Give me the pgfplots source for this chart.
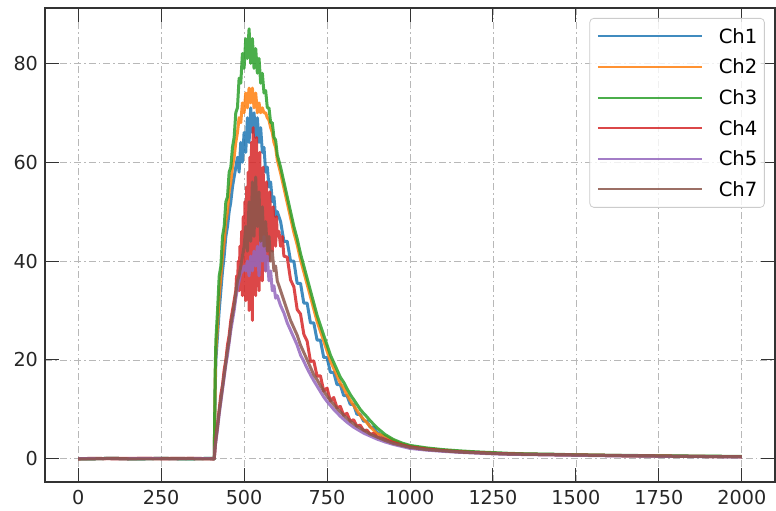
\documentclass[border=0pt]{standalone}
\usepackage{fontspec}
\setmainfont{DejaVu Sans}
\usepackage{pgfplots}
\usepackage{pgfplotstable}
\pgfplotsset{compat=1.18}
\definecolor{c1}{HTML}{1F77B4}
\definecolor{c2}{HTML}{FF7F0E}
\definecolor{c3}{HTML}{2CA02C}
\definecolor{c4}{HTML}{D62728}
\definecolor{c5}{HTML}{9467BD}
\definecolor{c7}{HTML}{8C564B}
\pgfplotstableread{
x c1 c2 c3 c5 c7
0 0 0 0 0 0
50 0 0.1 0 0.1 0
100 0.1 0 0.1 0 0.1
150 0 0 0 0 0
200 0 0.1 0 0.1 0
250 0.1 0 0.1 0 0
300 0 0 0 0 0.1
350 0 0.1 0 0.1 0
400 0.1 0 0.1 0 0
410 0 0 0 0 0
413 14 16 18 2.5 2.5
415 20 22 24 3.5 4
420 25 27 30 6 6.5
425 30 33 37 9 9.5
430 34 37 39 11.5 12
435 38 41 45 14 14.5
440 41 44 47 16.5 17
445 45 48 52 19 19.5
450 47 50 53 21 22
455 50 54 58 23.5 24
460 52 56 59 26 27
465 55 59 63 28 29
470 57 61 65 30 31
475 59 64 70 32.5 33.5
480 61 66 71 34.5 36
485 58 69 77 36 37
490 64 68 76 37.5 39
495 60 72 82 38 41
500 66 70 79 39 43
505 62 74 85 38 47
510 69 71 81 40 42
515 64 75 87 37 52
520 71 72 80 41 44
525 66 75 85 38 56
530 70 71 79 42 45
535 65 74 83 39 57
540 69 70 78 43 47
545 64 72 81 37 54
550 67 70 76 44 44
555 62 71 78 40 51
560 63 70 74 45 43
565 58 70 74.5 38 48
570 59 69 71 41 42
575 55 68.5 71 36 45
580 56 67 68 38 40
585 52 66 68 34 42
590 53 64 65 35 38
595 49 63 64.5 32.5 39
600 50 60.5 61.5 33 36
610 48 57.8 59 31 34
620 44 54.8 56 29.5 32
630 44 51.8 53 27.5 30
640 40 48.8 50 26 28
650 40 45.8 47 24.5 26.5
660 35.5 43.3 44.5 23 25
670 35.5 40.3 41.5 21 23
680 31.5 37.8 39 19.7 21.5
690 31.5 35.3 36.5 18.3 20
700 27.5 32.8 34 17 18.5
710 27.5 30.3 31.5 15.8 17
720 24 27.8 29 14.7 16
730 24 25.8 27 13.6 14.8
740 20.5 23.8 25 12.5 13.7
750 20.5 21.8 23 11.6 12.7
760 17.5 19.8 21 10.8 11.8
770 17.5 18.3 19.5 10 11
780 15 16.8 18 9.3 10.2
790 15 15.3 16.5 8.6 9.5
800 12.8 14.3 15.5 8 8.8
810 12.8 13.0 14.2 7.4 8.2
820 11 11.8 13 6.9 7.6
830 11 10.8 12 6.4 7.1
840 9 9.8 11 6 6.6
850 9 8.8 10 5.6 6.2
860 7.6 8.0 9.2 5.2 5.8
870 7.6 7.3 8.5 4.9 5.4
880 6.4 6.5 7.7 4.6 5.0
890 6.4 5.8 7 4.3 4.7
900 5.4 5.1 6.3 4.0 4.4
925 4.3 4.6 4.9 3.4 3.7
950 3.5 3.7 3.9 2.9 3.1
975 2.9 3.0 3.2 2.5 2.7
1000 2.5 2.5 2.7 2.1 2.3
1050 2.0 2.1 2.2 1.75 1.85
1100 1.7 1.75 1.85 1.5 1.6
1150 1.45 1.5 1.6 1.3 1.35
1200 1.3 1.3 1.4 1.15 1.2
1250 1.15 1.15 1.25 1.0 1.05
1300 1.0 1.0 1.1 0.9 0.95
1350 0.95 0.95 1.0 0.85 0.9
1400 0.9 0.9 0.95 0.8 0.85
1450 0.85 0.85 0.9 0.75 0.8
1500 0.8 0.8 0.8 0.7 0.75
1550 0.75 0.75 0.75 0.65 0.7
1600 0.7 0.7 0.7 0.6 0.65
1650 0.65 0.65 0.7 0.6 0.6
1700 0.6 0.6 0.65 0.55 0.6
1750 0.6 0.6 0.6 0.5 0.55
1800 0.55 0.55 0.6 0.5 0.5
1850 0.5 0.5 0.55 0.45 0.5
1900 0.5 0.5 0.55 0.45 0.45
1950 0.45 0.45 0.5 0.4 0.45
2000 0.45 0.45 0.5 0.4 0.45
}\wave
\pgfplotstableread{
x c4
0 0
150 0.1
300 0.1
410 0
413 2.5
415 4
420 7
425 10
430 13
435 15
440 18
445 20
450 23
455 25
460 28
465 30
470 32
475 34
477.5 37
480 35
482.5 40
485 34
487.5 43
490 36
492.5 46
495 33
497.5 49
500 38
502.5 52
505 32
507.5 55
510 40
512.5 58
515 30
517.5 61
520 45
522.5 64
525 28
527.5 67
530 36
532.5 62
535 33
537.5 65
540 40
542.5 60
545 34
547.5 62
550 42
552.5 57
555 36
557.5 59
560 44
562.5 55
565 38
567.5 56
570 45
572.5 52
575 40
577.5 54
580 46
582.5 50
585 42
587.5 51
590 46
592.5 48
595 43
597.5 49
600 45
605 46
610 43
615 45
620 41
630 40.8
640 36.2
650 34.8
660 30.2
670 29.3
680 25.2
690 23.8
700 19.7
710 19.8
720 16.7
730 16.8
740 13.7
750 14.3
760 11.7
770 12.4
780 10.3
790 10.6
800 8.8
810 9.2
820 7.6
830 7.9
840 6.6
850 6.8
860 5.7
870 5.8
880 5.0
890 5.1
900 4.5
925 3.9
950 3.3
975 2.8
1000 2.4
1050 1.95
1100 1.65
1150 1.4
1200 1.25
1250 1.1
1300 1.0
1350 0.9
1400 0.85
1450 0.8
1500 0.75
1550 0.7
1600 0.65
1650 0.6
1700 0.6
1750 0.55
1800 0.5
1850 0.5
1900 0.45
1950 0.45
2000 0.4
}\red
\begin{document}
\begin{tikzpicture}
\begin{axis}[
  at={(0,0)}, anchor=south west,
  width=365pt, height=237pt, scale only axis,
  xmin=-100, xmax=2100, ymin=-4.7, ymax=91.2,
  xtick={0,250,...,2000}, ytick={0,20,...,80},
  /pgf/number format/assume math mode=true,
  /pgf/number format/1000 sep={},
  tick label style={font=\fontsize{9.6}{11}\selectfont, text=black!85},
  xticklabel style={yshift=-0.5pt},
  tick align=inside, tick pos=both,
  major tick length=7pt,
  tick style={black!80, line width=0.5pt},
  axis line style={black!80, line width=0.6pt},
  grid=major,
  grid style={black!28, line width=0.4pt, dash pattern=on 3.5pt off 1.5pt on 0.8pt off 1.5pt},
  title={2023-04-05\_09-52-27 - Waveforms 1},
  title style={at={(0.5,1)}, anchor=base, yshift=2.5pt, font=\fontsize{11}{13}\selectfont},
  legend cell align=left,
  legend style={at={(0.986,0.979)}, anchor=north east, draw=black!20, rounded corners=2pt,
    fill=white, fill opacity=0.8, text opacity=1, draw opacity=1,
    font=\fontsize{9.8}{11}\selectfont, inner xsep=3.5pt, inner ysep=5.5pt,
    row sep=8.3pt, column sep=8pt,
    nodes={inner sep=0pt, text height=7pt, text depth=0pt}},
  legend image code/.code={\draw[#1, line width=1pt] (0pt,0pt) -- (52pt,0pt);},
  every axis plot/.append style={line width=1.5pt, draw opacity=0.85, line join=round},
]
\addplot[c1] table[x=x, y=c1] {\wave};
\addlegendentry{Ch1}
\addplot[c2] table[x=x, y=c2] {\wave};
\addlegendentry{Ch2}
\addplot[c3] table[x=x, y=c3] {\wave};
\addlegendentry{Ch3}
\addplot[c4] table[x=x, y=c4] {\red};
\addlegendentry{Ch4}
\addplot[c5] table[x=x, y=c5] {\wave};
\addlegendentry{Ch5}
\addplot[c7] table[x=x, y=c7] {\wave};
\addlegendentry{Ch7}
\end{axis}
\pgfresetboundingbox
\useasboundingbox (-22.5pt,-14pt) rectangle (365.5pt,241pt);
\end{tikzpicture}
\end{document}
